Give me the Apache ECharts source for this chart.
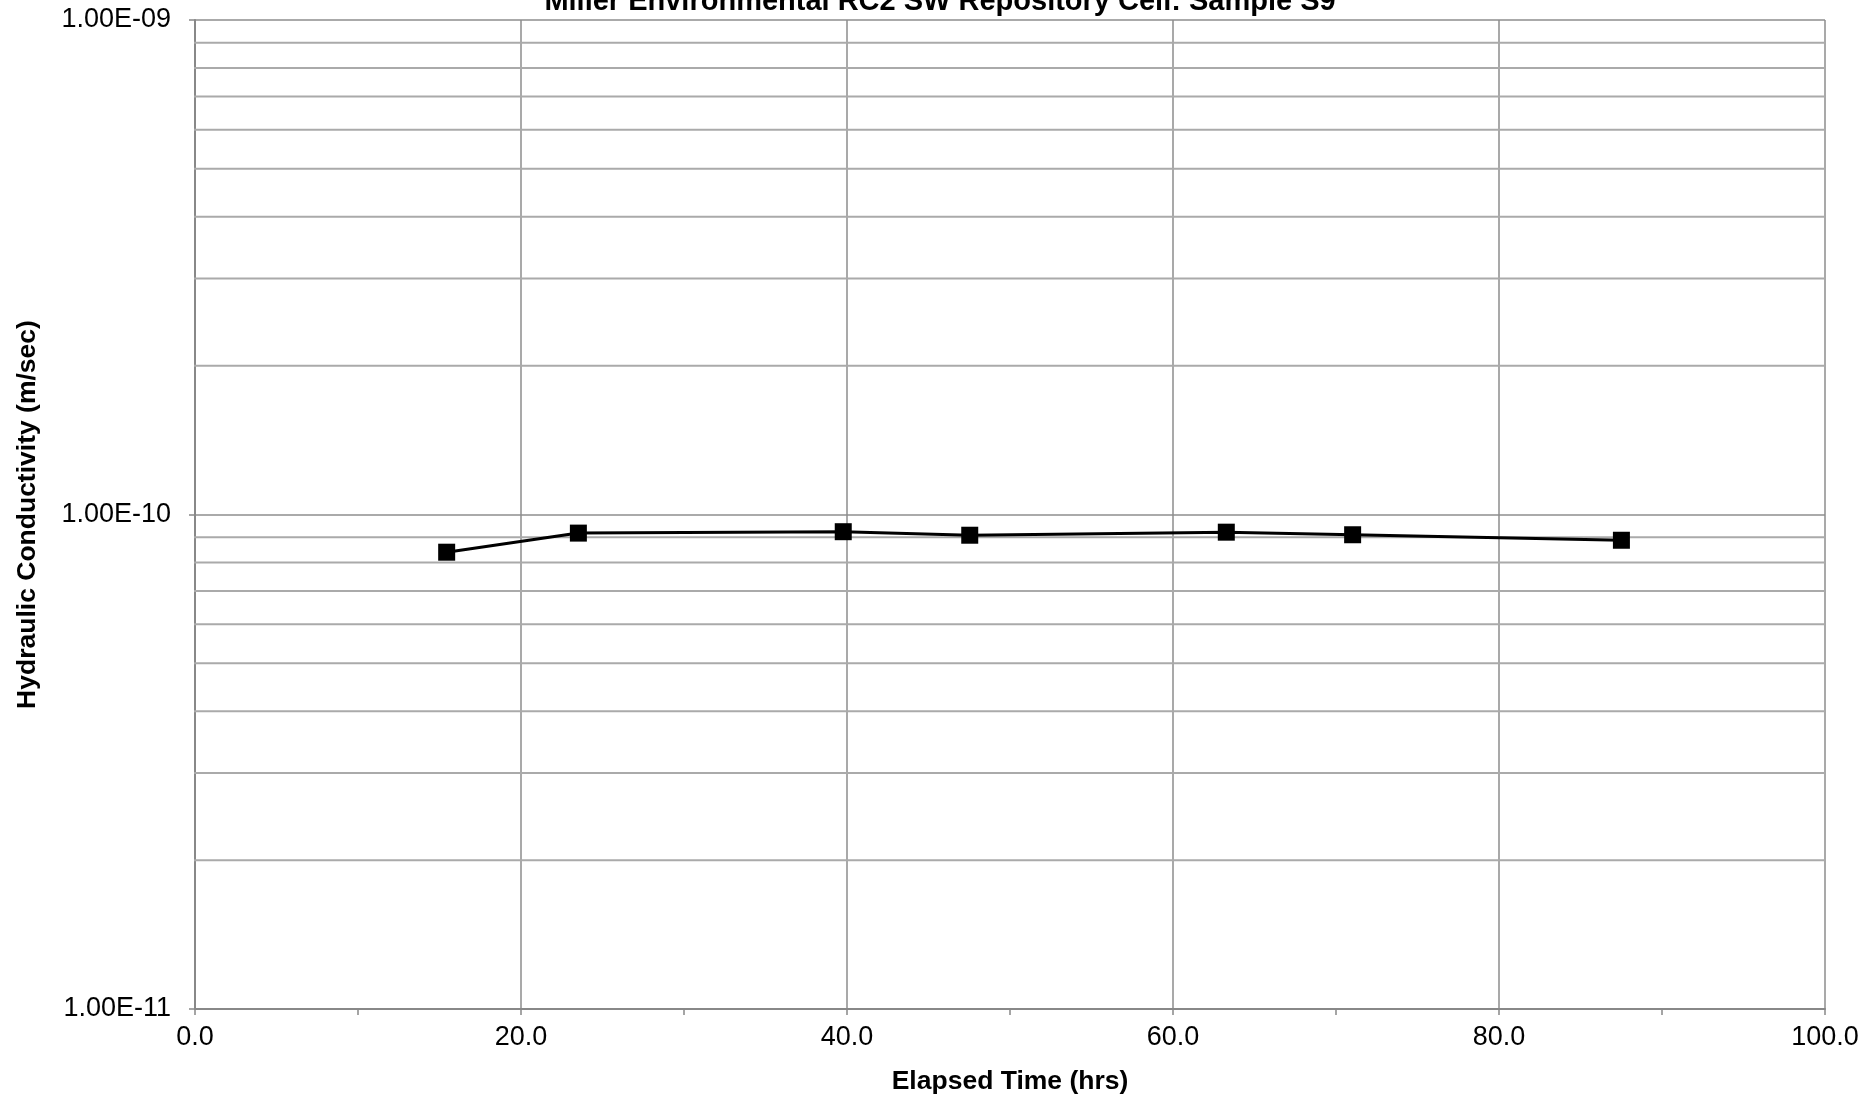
<!DOCTYPE html>
<html>
<head>
<meta charset="utf-8">
<script src="https://cdn.jsdelivr.net/npm/echarts@6/dist/echarts.min.js"></script>
<style>
html,body{margin:0;padding:0;background:#fff;}
#chart{width:1866px;height:1097px;}
</style>
</head>
<body>
<div id="chart"></div>
<script>
const titleText = 'Miller Environmental RC2 SW Repository Cell: Sample S9';
const xTitle = 'Elapsed Time (hrs)';
const yTitle = 'Hydraulic Conductivity (m/sec)';
const elapsedHrs = [15.44, 23.52, 39.77, 47.53, 63.27, 71.02, 87.51];
const conductivity = [8.39e-11, 9.17e-11, 9.23e-11, 9.08e-11, 9.21e-11, 9.10e-11, 8.87e-11];
const minorGridValues = [2e-11,3e-11,4e-11,5e-11,6e-11,7e-11,8e-11,9e-11,2e-10,3e-10,4e-10,5e-10,6e-10,7e-10,8e-10,9e-10];
const xMin = 0, xMax = 100, xInterval = 20;
const yMin = 1e-11, yMax = 1e-9;

function sci(v){
  const e = Math.round(Math.log10(v));
  const m = v / Math.pow(10, e);
  const sign = e < 0 ? '-' : '+';
  const ae = Math.abs(e);
  return m.toFixed(2) + 'E' + sign + (ae < 10 ? '0' + ae : ae);
}

const chart = echarts.init(document.getElementById('chart'), null, {renderer:'canvas'});
const font = 'Liberation Sans, Arial, sans-serif';
const tickOut = 0.37; // outward tick length in x-axis units

const gridSeries = minorGridValues.map(v => ({
  type:'line', silent:true, symbol:'none', clip:false, z:1,
  lineStyle:{color:'#aaaaaa', width:2},
  data:[[xMin - tickOut, v],[xMax, v]]
}));

chart.setOption({
  animation:false,
  backgroundColor:'#fff',
  title:{
    text:titleText, left:940, textAlign:'center', top:-13, padding:0,
    textStyle:{fontFamily:font, fontSize:29, fontWeight:'bold', color:'#000'}
  },
  grid:{left:195, right:41, top:20, bottom:88, containLabel:false, outerBoundsMode:'none'},
  xAxis:{
    type:'value', min:xMin, max:xMax, interval:xInterval,
    name:xTitle, nameLocation:'middle', nameGap:59,
    nameTextStyle:{fontFamily:font, fontSize:26.5, fontWeight:'bold', color:'#000'},
    axisLine:{show:true, onZero:false, lineStyle:{color:'#888', width:2}},
    axisTick:{show:true, length:6, lineStyle:{color:'#888', width:1.5}},
    minorTick:{show:true, splitNumber:2, length:6, lineStyle:{color:'#888', width:1.5}},
    axisLabel:{fontFamily:font, fontSize:27, color:'#000', margin:15, formatter:v=>v.toFixed(1)},
    splitLine:{show:true, lineStyle:{color:'#8c8c8c', width:1.5}}
  },
  yAxis:{
    type:'log', logBase:10, min:yMin, max:yMax,
    name:yTitle, nameLocation:'middle', nameGap:154, nameRotate:90,
    nameTextStyle:{fontFamily:font, fontSize:26.5, fontWeight:'bold', color:'#000'},
    axisLine:{show:true, lineStyle:{color:'#888', width:2}},
    axisTick:{show:true, length:6, lineStyle:{color:'#888', width:1.5}},
    axisLabel:{fontFamily:font, fontSize:27, color:'#000', margin:24, formatter:v=>sci(v)},
    splitLine:{show:true, lineStyle:{color:'#aaaaaa', width:2}}
  },
  series:gridSeries.concat([{
    type:'line',
    data:elapsedHrs.map((x,i)=>[x, conductivity[i]]),
    symbol:'rect', symbolSize:17,
    lineStyle:{color:'#000', width:3},
    itemStyle:{color:'#000'},
    z:5
  }])
});
</script>
</body>
</html>
